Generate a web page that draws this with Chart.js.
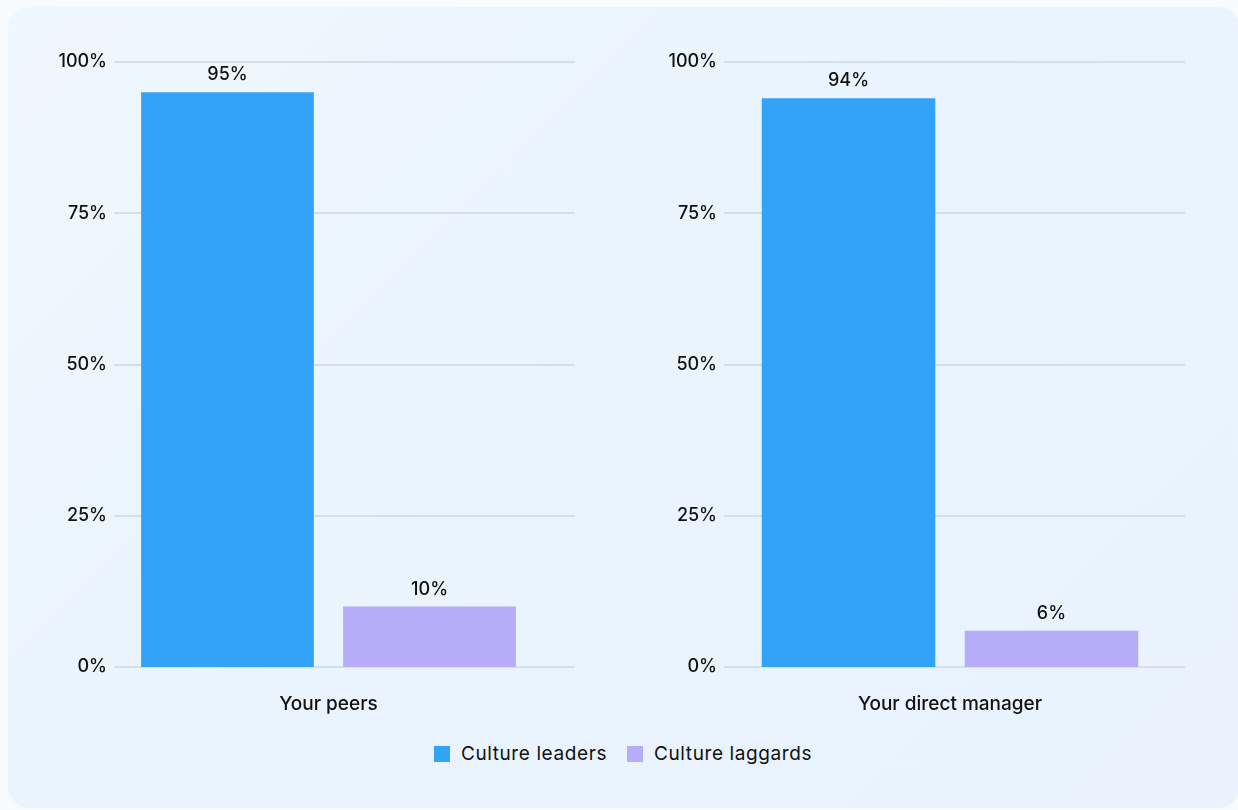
<!DOCTYPE html>
<html>
<head>
<meta charset="utf-8">
<script src="https://cdn.jsdelivr.net/npm/chart.js@4"></script>
<style>
  html, body { margin: 0; padding: 0; }
  body { width: 1238px; height: 810px; background: #f8fbfe; position: relative; overflow: hidden; font-family: Inter, "Noto Sans", sans-serif; }
  .card {
    position: absolute; left: 8px; top: 7px; width: 1232px; height: 801px;
    border-radius: 22px;
    background: linear-gradient(135deg, #f0f7fe 0%, #e9f4fd 45%, #eaf3fd 100%);
  }
  canvas.chart { position: absolute; top: 0; }
  #left { left: 0; }
  #right { left: 610px; }
  #legend {
    position: absolute; left: 0; top: 742px; width: 1246px;
    display: flex; justify-content: center; align-items: center;
    font-size: 19px; font-weight: 400; color: #111; letter-spacing: 0.6px;
  }
  #legend .item { display: flex; align-items: center; margin: 0 10px; }
  #legend .box { width: 16px; height: 16px; margin-right: 11px; }
</style>
</head>
<body>
<div class="card"></div>
<canvas class="chart" id="left" width="620" height="730"></canvas>
<canvas class="chart" id="right" width="620" height="730"></canvas>
<div id="legend"></div>
<script>
const seriesNames = ['Culture leaders', 'Culture laggards'];
const seriesColors = ['#33a3f8', '#b6acf8'];
const peersCategory = ['Your peers'];
const peersValues = [95, 10];
const managerCategory = ['Your direct manager'];
const managerValues = [94, 6];
const yTicks = [0, 25, 50, 75, 100];

const FONT = 'Inter, "Noto Sans", sans-serif';

// value labels sitting above each bar
const barLabels = {
  id: 'barLabels',
  afterDatasetsDraw(chart) {
    const ctx = chart.ctx;
    ctx.save();
    ctx.font = '500 18px ' + FONT;
    ctx.fillStyle = '#111';
    ctx.textAlign = 'center';
    ctx.textBaseline = 'alphabetic';
    chart.data.datasets.forEach((ds, i) => {
      chart.getDatasetMeta(i).data.forEach((bar, j) => {
        ctx.fillText(ds.data[j] + '%', bar.x, bar.y - 12);
      });
    });
    ctx.restore();
  }
};

// horizontal grid lines that run a bit past the plot area
const longGrid = {
  id: 'longGrid',
  beforeDatasetsDraw(chart, args, opts) {
    const ctx = chart.ctx, y = chart.scales.y, area = chart.chartArea;
    ctx.save();
    ctx.strokeStyle = '#d6dee8';
    ctx.lineWidth = 2;
    y.ticks.forEach(t => {
      const py = Math.round(y.getPixelForValue(t.value));
      ctx.beginPath();
      ctx.moveTo(area.left, py);
      ctx.lineTo(area.right + opts.extend, py);
      ctx.stroke();
    });
    ctx.restore();
  }
};

function makeChart(id, labels, values, catPct, padRight, extend) {
  return new Chart(document.getElementById(id), {
    type: 'bar',
    data: {
      labels: labels,
      datasets: seriesNames.map((name, i) => ({
        label: name,
        data: [values[i]],
        backgroundColor: seriesColors[i],
        borderWidth: 0,
        categoryPercentage: catPct,
        barPercentage: 0.855
      }))
    },
    options: {
      responsive: false,
      animation: false,
      layout: { padding: { top: 62, right: padRight, left: 0, bottom: 0 } },
      plugins: {
        legend: { display: false },
        tooltip: { enabled: false },
        longGrid: { extend: extend }
      },
      scales: {
        x: {
          grid: { display: false, drawTicks: false },
          border: { display: false },
          ticks: { color: '#111', font: { family: FONT, size: 19, weight: 500 }, padding: 26 },
          afterFit: s => { s.height = 63; }
        },
        y: {
          min: 0,
          max: 100,
          afterBuildTicks: s => { s.ticks = yTicks.map(v => ({ value: v })); },
          grid: { display: false, drawTicks: false },
          border: { display: false },
          ticks: {
            color: '#111',
            font: { family: FONT, size: 18, weight: 500 },
            padding: 7,
            callback: v => v + '%'
          },
          afterFit: s => { s.width = 114; }
        }
      }
    },
    plugins: [longGrid, barLabels]
  });
}

makeChart('left', peersCategory, peersValues, 0.942, 620 - 543, 32);
makeChart('right', managerCategory, managerValues, 0.898, 620 - 566, 9);

// shared legend under both charts
const legend = document.getElementById('legend');
seriesNames.forEach((name, i) => {
  const item = document.createElement('div');
  item.className = 'item';
  const box = document.createElement('span');
  box.className = 'box';
  box.style.background = seriesColors[i];
  const txt = document.createElement('span');
  txt.textContent = name;
  item.appendChild(box);
  item.appendChild(txt);
  legend.appendChild(item);
});
</script>
</body>
</html>
